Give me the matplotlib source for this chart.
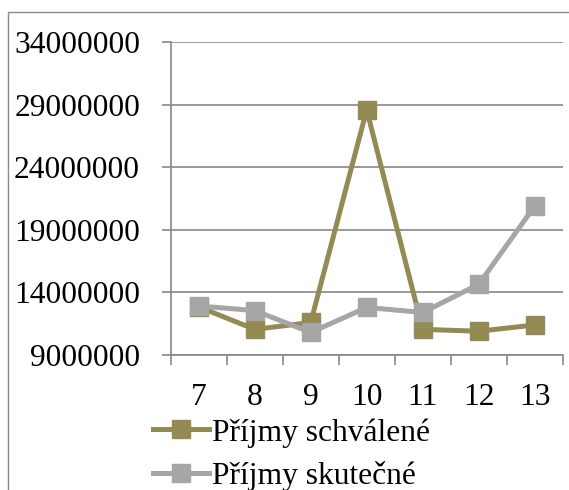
import matplotlib
matplotlib.use("Agg")
import matplotlib.pyplot as plt
from matplotlib.patches import Rectangle
from matplotlib.ticker import FixedLocator, NullFormatter

plt.rcParams["font.family"] = ["Liberation Serif", "DejaVu Serif"]

months = ["7", "8", "9", "10", "11", "12", "13"]
prijmy_schvalene = [12850000, 11050000, 11600000, 28600000, 11050000, 10900000, 11400000]
prijmy_skutecne = [12920000, 12550000, 10800000, 12800000, 12400000, 14650000, 20900000]
y_ticks = [9000000, 14000000, 19000000, 24000000, 29000000, 34000000]

W, H = 569, 490
fig = plt.figure(figsize=(W / 100, H / 100), dpi=100)

left, right, top, bottom = 170.7, 562.7, 42.3, 355.0
ax = fig.add_axes([left / W, 1 - bottom / H, (right - left) / W, (bottom - top) / H])

grid_col = "#878787"
olive = "#948A54"
grey = "#A6A6A6"
fs = 22.7

x = list(range(len(months)))
ax.plot(x, prijmy_schvalene, color=olive, lw=3.6, marker="s", ms=13.5,
        mec=olive, label="Příjmy schválené", zorder=3)
ax.plot(x, prijmy_skutecne, color=grey, lw=3.6, marker="s", ms=13.5,
        mec=grey, label="Příjmy skutečné", zorder=4)

ax.set_xlim(-0.5, len(months) - 0.5)
ax.set_ylim(y_ticks[0], y_ticks[-1])
ax.set_yticks(y_ticks)
ax.set_yticklabels([str(v) for v in y_ticks])
ax.yaxis.grid(True, color=grid_col, lw=1.2)
ax.set_axisbelow(True)

# category axis: ticks between categories, labels in the middle
ax.xaxis.set_major_locator(FixedLocator([i - 0.5 for i in range(len(months) + 1)]))
ax.xaxis.set_major_formatter(NullFormatter())
ax.xaxis.set_minor_locator(FixedLocator(x))
ax.set_xticklabels(months, minor=True)
ax.tick_params(axis="x", which="major", length=7.2, width=1.2, color=grid_col)
ax.tick_params(axis="x", which="minor", length=0, pad=20, labelsize=fs)
ax.tick_params(axis="y", length=6.5, width=1.2, color=grid_col, pad=15.6, labelsize=fs)

for s in ["top", "right"]:
    ax.spines[s].set_visible(False)
for s in ["left", "bottom"]:
    ax.spines[s].set_color(grid_col)
    ax.spines[s].set_linewidth(1.2)

leg = fig.legend(loc="upper left", bbox_to_anchor=(153 / W, 1 - 418 / H),
                 frameon=False, fontsize=fs, handlelength=1.78, handletextpad=0.1,
                 borderpad=0, borderaxespad=0, labelspacing=0.44)

# outer chart border (cut off at right and bottom)
fig.patches.append(Rectangle((8 / W, -0.1), 2, 1.1 - 12.5 / H, transform=fig.transFigure,
                             fill=False, edgecolor="#8c8c8c", lw=1.0))

fig.savefig("out.png", dpi=100)
